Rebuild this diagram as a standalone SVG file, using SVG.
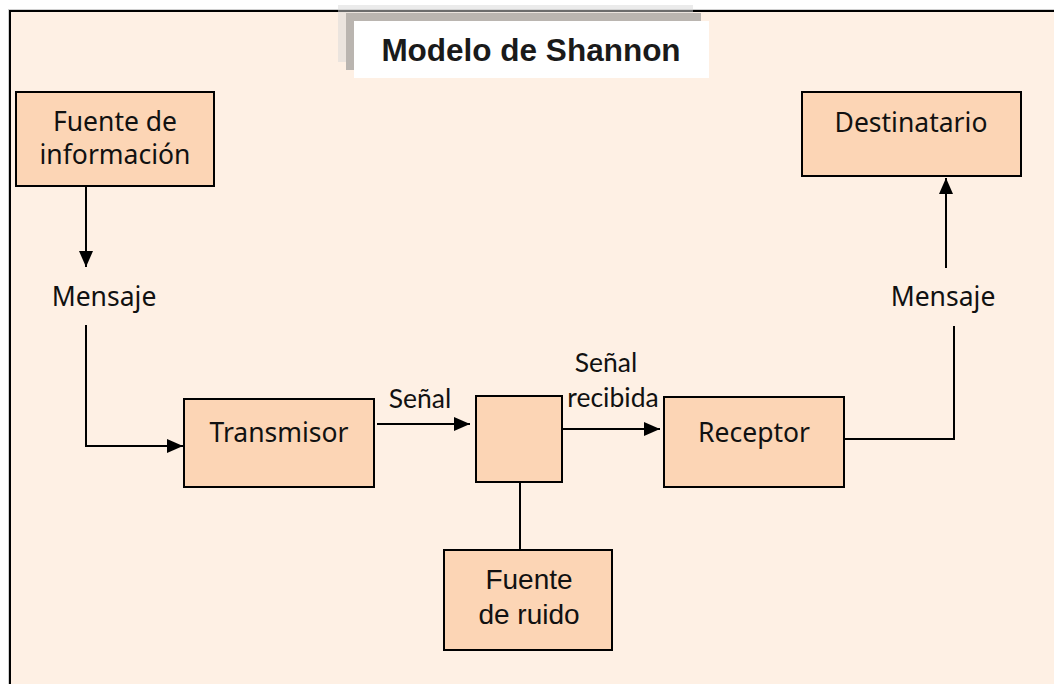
<svg xmlns="http://www.w3.org/2000/svg" width="1054" height="684" viewBox="0 0 1054 684">
<style>
.box{fill:#FCD5B5;stroke:#000;stroke-width:2}
.t{font-family:"Noto Sans","DejaVu Sans",sans-serif;font-size:26.5px;fill:#111;text-anchor:middle}
.a{font-family:"Liberation Sans",Arial,sans-serif;font-size:28px;fill:#111;text-anchor:middle}
.s{font-family:Lato,"Open Sans",sans-serif;font-size:26.5px;fill:#111;text-anchor:middle}
.ln{fill:none;stroke:#000;stroke-width:2}
</style>
<defs>
<marker id="ah" viewBox="0 0 16 14" refX="16" refY="7" markerWidth="16" markerHeight="14" markerUnits="userSpaceOnUse" orient="auto">
<path d="M0,0 L16,7 L0,14 Z" fill="#000"/>
</marker>
</defs>
<rect width="1054" height="684" fill="#fff"/>
<rect x="8.5" y="9.5" width="1060" height="690" fill="none" stroke="#d0d0d0" stroke-width="1"/>
<rect x="10" y="11" width="1060" height="690" fill="#FEF0E4" stroke="#000" stroke-width="2"/>
<g id="title">
<rect x="338" y="5" width="355" height="57" fill="#D8D8D8" opacity="0.5"/>
<rect x="346" y="13" width="355" height="57" fill="#BAB5B0"/>
<rect x="354" y="21" width="355" height="57" fill="#fff"/>
<text x="531" y="61" font-family="'Liberation Sans',Arial,sans-serif" font-size="31.5" font-weight="bold" fill="#1a1a1a" text-anchor="middle">Modelo de Shannon</text>
</g>
<g id="connectors">
<path class="ln" d="M86,186 V267" marker-end="url(#ah)"/>
<path class="ln" d="M86,325 V446 H183" marker-end="url(#ah)"/>
<path class="ln" d="M377,424 H470" marker-end="url(#ah)"/>
<path class="ln" d="M562,429 H660" marker-end="url(#ah)"/>
<path class="ln" d="M520,482 V550"/>
<path class="ln" d="M844,439 H954 V326"/>
<path class="ln" d="M946,268 V178" marker-end="url(#ah)"/>
</g>
<g id="fuente-informacion">
<rect class="box" x="16" y="92" width="198" height="94"/>
<text class="t" x="115" y="131">Fuente de</text>
<text class="t" x="115" y="164">información</text>
</g>
<g id="mensaje-izq">
<text class="t" x="104" y="306">Mensaje</text>
</g>
<g id="transmisor">
<rect class="box" x="184" y="399" width="190" height="88"/>
<text class="t" x="279" y="442">Transmisor</text>
</g>
<g id="senal">
<text class="s" x="420" y="408">Señal</text>
</g>
<g id="canal">
<rect class="box" x="476" y="396" width="86" height="86"/>
</g>
<g id="senal-recibida">
<text class="s" x="606" y="372">Señal</text>
<text class="s" x="613" y="407">recibida</text>
</g>
<g id="fuente-ruido">
<rect class="box" x="444" y="550" width="168" height="100"/>
<text class="a" x="529" y="589">Fuente</text>
<text class="a" x="529" y="624">de ruido</text>
</g>
<g id="receptor">
<rect class="box" x="664" y="397" width="180" height="90"/>
<text class="t" x="754" y="442">Receptor</text>
</g>
<g id="mensaje-der">
<text class="t" x="943" y="306">Mensaje</text>
</g>
<g id="destinatario">
<rect class="box" x="802" y="92" width="219" height="84"/>
<text class="t" x="911" y="132">Destinatario</text>
</g>
</svg>
